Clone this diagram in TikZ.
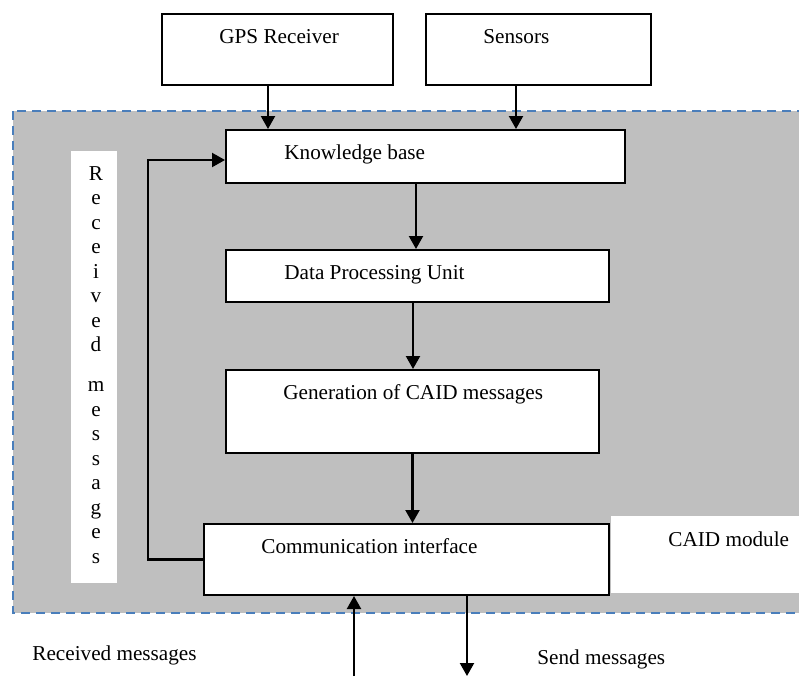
\documentclass[tikz,border=0pt]{standalone}
\usepackage{fontspec}
\setmainfont{Liberation Serif}
\usetikzlibrary{arrows.meta}
\definecolor{moduleblue}{HTML}{4A7EBB}

\begin{document}
\begin{tikzpicture}[x=0.5pt,y=-0.5pt,font=\fontsize{10.6}{12.25}\selectfont]
\tikzset{
% Boxes, plain labels and arrows
block/.style={draw,line width=1pt,fill=white,inner sep=0,anchor=north west},
blank/.style={fill=white,inner sep=0,anchor=north west},
plain/.style={inner sep=0,anchor=base west},
flow/.style={line width=1.1pt,-{Triangle[length=6.5pt,width=7pt]}}
}
\clip (0,0) rectangle (799,676);

% CAID module area
\draw[moduleblue,line width=1pt,dash pattern=on 4.5pt off 3pt,fill=gray!50] (13,111) rectangle (830,613);

% The blocks
\node[block,minimum width=115.5pt,minimum height=35.5pt] (gps) at (161,13) {};
\node[block,minimum width=112.5pt,minimum height=35.5pt] (sensors) at (425,13) {};
\node[block,minimum width=199.5pt,minimum height=26.5pt] (kb) at (225,129) {};
\node[block,minimum width=191.5pt,minimum height=26pt] (dpu) at (225,249) {};
\node[block,minimum width=186.5pt,minimum height=41.5pt] (gen) at (225,369) {};
\node[block,minimum width=202.5pt,minimum height=35.5pt] (comm) at (203,523) {};
\node[blank,minimum width=23pt,minimum height=216pt] (rcvbox) at (71,151) {};
\node[blank,minimum width=110pt,minimum height=38.5pt] (modbox) at (611,516) {};

% Texts
\node[plain] (gpslabel) at (219,43) {GPS Receiver};
\node[plain] (senslabel) at (483,43) {Sensors};
\node[plain] (kblabel) at (284,159) {Knowledge base};
\node[plain] (dpulabel) at (284,279) {Data Processing Unit};
\node[plain] (genlabel) at (283,399) {Generation of CAID messages};
\node[plain] (commlabel) at (261,553) {Communication interface};
\node[plain] (modlabel) at (668,546) {CAID module};
\node[plain] (inlabel) at (32,660) {Received messages};
\node[plain] (outlabel) at (537,664) {Send messages};

% vertical text
\foreach \ch [count=\i from 0] in {R,e,c,e,i,v,e,d}
  \node[inner sep=0,anchor=base] (up\i) at (96,180+24.5*\i) {\ch};
\foreach \ch [count=\i from 0] in {m,e,s,s,a,g,e,s}
  \node[inner sep=0,anchor=base] (lo\i) at (96,391.5+24.5*\i) {\ch};

% Arrows
\draw[flow] ([xshift=-4.75pt]gps.south) -- ([xshift=-4.75pt]gps.south |- kb.north);
\draw[flow] ([xshift=-11.25pt]sensors.south) -- ([xshift=-11.25pt]sensors.south |- kb.north);
\draw[flow] ([xshift=-4.75pt]kb.south) -- ([xshift=-4.75pt]kb.south |- dpu.north);
\draw[flow] ([xshift=-2.25pt]dpu.south) -- ([xshift=-2.25pt]dpu.south |- gen.north);
\draw[flow] (gen.south) -- (gen.south |- comm.north);
% feedback of received messages
\draw[flow] (comm.west) -- ++(-55,0) |- ([yshift=-1.75pt]kb.west);
% messages in and out
\coordinate (inend) at (354,676);
\coordinate (outend) at (467,676);
\draw[flow] (inend) -- (inend |- comm.south);
\draw[flow] (outend |- comm.south) -- (outend);
\end{tikzpicture}
\end{document}
